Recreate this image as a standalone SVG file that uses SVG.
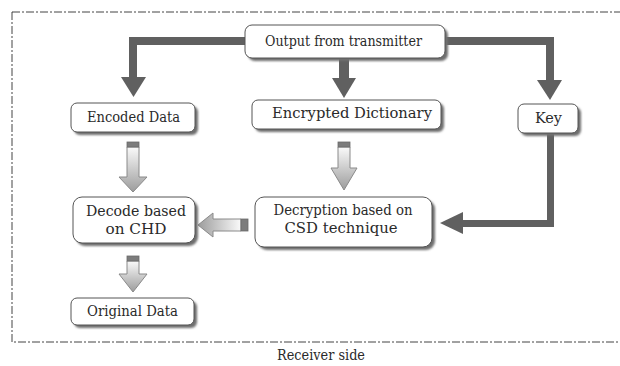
<svg xmlns="http://www.w3.org/2000/svg" width="620" height="366" viewBox="0 0 620 366">
<style>
.box{fill:#fff;stroke:#555;stroke-width:1}
.sh{fill:#6e6e6e;filter:url(#blur)}
.t{font-family:'DejaVu Serif Condensed','DejaVu Serif',serif;font-stretch:condensed;font-size:15px;fill:#2a2a2a;text-anchor:middle}
.con{fill:#606060}
.hol{stroke:#8a8a8a;stroke-width:1}
.cap{fill:#7c7c7c;stroke:#6a6a6a;stroke-width:0.8}
</style>
<defs>
<filter id="blur" x="-10%" y="-20%" width="120%" height="140%"><feGaussianBlur stdDeviation="1"/></filter>
<linearGradient id="gv" x1="0" y1="0" x2="0" y2="1"><stop offset="0" stop-color="#fafafa"/><stop offset="1" stop-color="#9c9c9c"/></linearGradient>
<linearGradient id="gh" x1="1" y1="0" x2="0" y2="0"><stop offset="0" stop-color="#fafafa"/><stop offset="1" stop-color="#9c9c9c"/></linearGradient>
</defs>
<rect x="12" y="12" width="640" height="330" fill="none" stroke="#444" stroke-width="1" stroke-dasharray="8 2 2 2"/>
<g id="connectors">
<polygon class="con" points="245,37 129,37 129,77 137,77 137,45 245,45"/>
<polygon class="con" points="121,77 146,77 133.5,97"/>
<rect class="con" x="339" y="58" width="10" height="20"/>
<polygon class="con" points="332,78 356,78 344,98"/>
<polygon class="con" points="445,37 554,37 554,80 546,80 546,45 445,45"/>
<polygon class="con" points="537,80 562,80 550,100"/>
<polygon class="con" points="547,133 554,133 554,227 463,227 463,220 547,220"/>
<polygon class="con" points="463,212 463,234 440,223"/>
<g class="hol">
<path d="M127,147 H139 V177 H147 L133,192 L119,177 H127 Z" fill="url(#gv)"/>
<rect class="cap" x="127" y="142" width="12" height="5"/>
<path d="M338,147 H350 V168 H357 L344,190 L331,168 H338 Z" fill="url(#gv)"/>
<rect class="cap" x="338" y="142" width="12" height="5"/>
<path d="M127,261 H139 V274 H147 L133,292 L119,274 H127 Z" fill="url(#gv)"/>
<rect class="cap" x="127" y="256" width="12" height="5"/>
<path d="M241,219 V231 H213 V237 L198,225 L213,213 V219 Z" fill="url(#gh)"/>
<rect class="cap" x="241" y="219" width="7" height="12"/>
</g>
</g>
<g id="n-output">
<rect class="sh" x="248" y="28" width="200" height="33" rx="7"/>
<rect class="box" x="245" y="25" width="200" height="33" rx="7"/>
<text class="t" x="343.5" y="46" textLength="157" lengthAdjust="spacingAndGlyphs">Output from transmitter</text>
</g>
<g id="n-encoded">
<rect class="sh" x="74" y="106" width="124" height="29" rx="6"/>
<rect class="box" x="71" y="103" width="124" height="29" rx="6"/>
<text class="t" x="133.5" y="122" textLength="93" lengthAdjust="spacingAndGlyphs">Encoded Data</text>
</g>
<g id="n-dict">
<rect class="sh" x="255" y="103" width="189" height="29" rx="6"/>
<rect class="box" x="252" y="100" width="189" height="29" rx="6"/>
<text class="t" x="352" y="118" textLength="160" lengthAdjust="spacingAndGlyphs">Encrypted Dictionary</text>
</g>
<g id="n-key">
<rect class="sh" x="521" y="107" width="60" height="29" rx="6"/>
<rect class="box" x="518" y="104" width="60" height="29" rx="6"/>
<text class="t" x="548.5" y="123" textLength="27" lengthAdjust="spacingAndGlyphs">Key</text>
</g>
<g id="n-decode">
<rect class="sh" x="76" y="200" width="122" height="46" rx="9"/>
<rect class="box" x="73" y="197" width="122" height="46" rx="9"/>
<text class="t" x="136" y="216" textLength="100" lengthAdjust="spacingAndGlyphs">Decode based</text>
<text class="t" x="136" y="234" textLength="61" lengthAdjust="spacingAndGlyphs">on CHD</text>
</g>
<g id="n-decrypt">
<rect class="sh" x="258" y="200" width="177" height="50" rx="9"/>
<rect class="box" x="255" y="197" width="177" height="50" rx="9"/>
<text class="t" x="343" y="215" textLength="139" lengthAdjust="spacingAndGlyphs">Decryption based on</text>
<text class="t" x="341" y="233" textLength="113" lengthAdjust="spacingAndGlyphs">CSD technique</text>
</g>
<g id="n-original">
<rect class="sh" x="74" y="301" width="123" height="27" rx="6"/>
<rect class="box" x="71" y="298" width="123" height="27" rx="6"/>
<text class="t" x="132.5" y="316" textLength="91" lengthAdjust="spacingAndGlyphs">Original Data</text>
</g>
<text class="t" x="321" y="360" textLength="88" lengthAdjust="spacingAndGlyphs">Receiver side</text>
</svg>
